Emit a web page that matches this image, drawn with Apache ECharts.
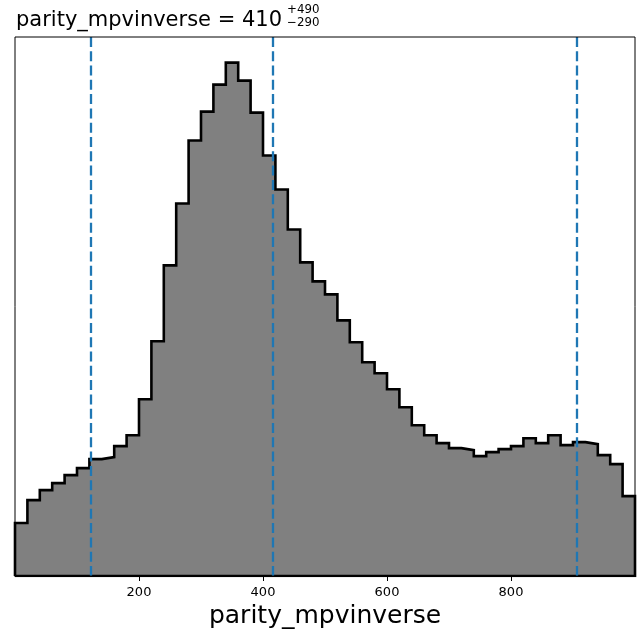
<!DOCTYPE html>
<html>
<head>
<meta charset="utf-8">
<script src="https://cdn.jsdelivr.net/npm/echarts@6/dist/echarts.min.js"></script>
<style>
html,body{margin:0;padding:0;background:#fff;}
#chart{width:644px;height:640px;}
</style>
</head>
<body>
<div id="chart"></div>
<script>
// Histogram counts (relative), 50 bins of width 20 from 0 to 1000
const binStart = 0;
const binWidth = 20;
const counts = [53, 76, 86, 93, 101, 108, 117, 119, 130, 141,
                177, 235, 311, 373, 436, 465, 492, 514, 496, 464,
                421, 387, 347, 314, 295, 282, 256, 234, 214, 203,
                187, 169, 151, 141, 133, 128, 126, 120, 124, 127,
                130, 138, 133, 141, 131, 134, 132, 121, 112, 80];
// Quantile lines (16%, 50%, 84%)
const quantiles = [122, 415, 906];
const xTicks = [200, 400, 600, 800];
const titleMain = 'parity_mpvinverse = 410';
const titleSup = '+490';
const titleSub = '\u2212290';
const xLabel = 'parity_mpvinverse';

// Build closed step outline from the bins
const xEnd = binStart + counts.length * binWidth;
const outline = [[binStart, 0]];
counts.forEach((c, i) => {
  const x0 = binStart + i * binWidth;
  outline.push([x0, c]);
  outline.push([x0 + binWidth, c]);
});
outline.push([xEnd, 0]);
outline.push([binStart, 0]);

const yMax = Math.max(...counts) * 1.05;
const FONT = 'DejaVu Sans';

const chart = echarts.init(document.getElementById('chart'), null, {renderer: 'canvas'});
chart.setOption({
  animation: false,
  backgroundColor: '#fff',
  textStyle: {fontFamily: FONT},
  grid: {left: 15, right: 9, top: 37, bottom: 64, show: true,
         borderColor: '#000', borderWidth: 1, backgroundColor: 'transparent', z: 10},
  xAxis: {
    type: 'value', min: 0, max: 1000,
    name: xLabel, nameLocation: 'middle', nameGap: 28,
    nameTextStyle: {fontSize: 25, color: '#000', fontFamily: FONT},
    axisLine: {show: true, onZero: false, lineStyle: {color: '#000', width: 1}},
    axisTick: {show: true, inside: false, length: 5, customValues: xTicks,
               lineStyle: {color: '#000', width: 1}},
    axisLabel: {show: true, margin: 10, customValues: xTicks, fontSize: 13, color: '#000', fontFamily: FONT},
    splitLine: {show: false}
  },
  yAxis: {
    type: 'value', min: 0, max: yMax,
    axisLine: {show: false}, axisTick: {show: false}, axisLabel: {show: false},
    splitLine: {show: false}
  },
  series: [
    {
      type: 'line',
      data: outline,
      symbol: 'none',
      lineStyle: {color: '#000', width: 2.6, join: 'miter'},
      areaStyle: {color: '#808080', opacity: 1},
      z: 2
    },
    {
      type: 'line',
      data: [],
      z: 5,
      markLine: {
        silent: true,
        symbol: ['none', 'none'],
        label: {show: false},
        lineStyle: {color: '#1f77b4', width: 2.3, type: [10, 4.3], opacity: 1},
        data: quantiles.map(q => ({xAxis: q}))
      }
    }
  ],
  graphic: [
    {type: 'text', x: 16, y: 20.5, style: {text: titleMain, fontSize: 21, fontFamily: FONT, fill: '#000', verticalAlign: 'middle', align: 'left'}},
    {type: 'text', x: 287, y: 9.6, style: {text: titleSup, fontSize: 11.8, fontFamily: FONT, fill: '#000', verticalAlign: 'middle', align: 'left'}},
    {type: 'text', x: 287, y: 23.3, style: {text: titleSub, fontSize: 11.8, fontFamily: FONT, fill: '#000', verticalAlign: 'middle', align: 'left'}}
  ]
});
</script>
</body>
</html>
